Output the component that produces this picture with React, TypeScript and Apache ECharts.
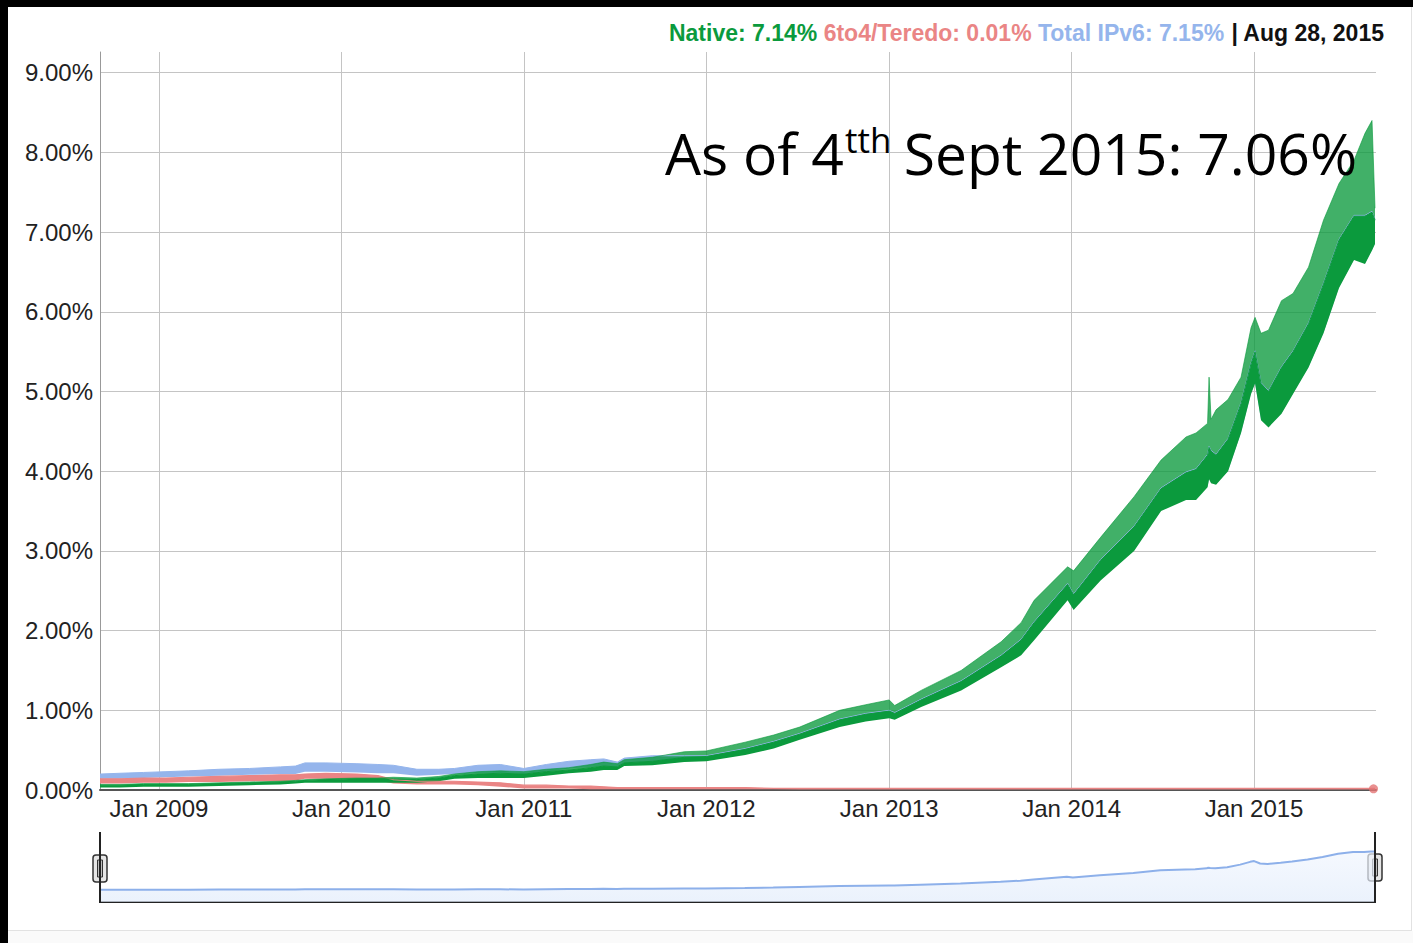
import React, { useEffect, useRef } from "react";
import * as echarts from "echarts";

// ---- data (percent of users) ----
const dates = [
  "2008-09-05","2008-10-15","2008-12-01",
  "2009-01-15","2009-03-01","2009-05-01","2009-07-01","2009-09-01","2009-10-01","2009-10-20","2009-12-01",
  "2010-02-01","2010-03-15","2010-04-15","2010-06-01","2010-07-15","2010-08-15","2010-10-01","2010-11-15",
  "2011-01-01","2011-02-15","2011-04-01","2011-05-15","2011-06-10","2011-07-07","2011-07-21","2011-09-15","2011-11-18",
  "2012-01-01","2012-03-19","2012-05-15","2012-07-06","2012-09-24","2012-11-15",
  "2013-01-01","2013-01-12","2013-03-06","2013-05-25","2013-08-13","2013-09-22","2013-10-18","2013-12-24",
  "2014-01-05","2014-02-28","2014-05-06","2014-06-29","2014-08-18","2014-09-07","2014-09-30","2014-10-03","2014-10-07","2014-10-17","2014-11-10","2014-12-06","2014-12-26",
  "2015-01-03","2015-01-15","2015-01-30","2015-02-25","2015-03-20","2015-04-20","2015-05-20","2015-06-20","2015-07-20","2015-08-11","2015-08-25","2015-08-31",
];

// Native: weekday floor, top of the dense band, and weekend spike tips
const nativeLow = [
  0.03,0.03,0.04,
  0.04,0.04,0.05,0.06,0.07,0.08,0.09,0.09,
  0.09,0.09,0.09,0.09,0.11,0.14,0.15,0.15,
  0.15,0.18,0.21,0.23,0.25,0.25,0.30,0.31,0.35,
  0.36,0.44,0.52,0.63,0.79,0.86,
  0.90,0.88,1.04,1.25,1.54,1.69,1.88,2.38,
  2.26,2.63,3.00,3.50,3.64,3.64,3.80,3.90,3.85,3.83,4.00,4.48,4.97,
  5.10,4.64,4.55,4.72,4.97,5.30,5.73,6.30,6.65,6.60,6.77,6.85,
];
const nativeBody = [
  0.06,0.06,0.07,
  0.07,0.07,0.08,0.09,0.10,0.11,0.12,0.13,
  0.14,0.14,0.14,0.13,0.15,0.18,0.20,0.21,
  0.20,0.23,0.25,0.28,0.30,0.29,0.34,0.36,0.41,
  0.42,0.51,0.60,0.70,0.88,0.95,
  0.99,0.96,1.13,1.36,1.68,1.88,2.10,2.58,
  2.45,2.88,3.30,3.78,3.98,4.02,4.20,4.30,4.25,4.20,4.40,4.85,5.35,
  5.50,5.10,5.00,5.30,5.50,5.85,6.35,6.90,7.20,7.20,7.25,7.15,
];
const nativePeak = [
  0.07,0.07,0.08,
  0.08,0.08,0.09,0.10,0.11,0.12,0.13,0.14,
  0.15,0.15,0.16,0.15,0.17,0.20,0.23,0.24,
  0.23,0.26,0.28,0.32,0.35,0.33,0.38,0.41,0.48,
  0.49,0.60,0.69,0.79,1.00,1.07,
  1.13,1.06,1.25,1.50,1.86,2.10,2.38,2.80,
  2.75,3.17,3.68,4.14,4.43,4.48,4.60,5.18,4.65,4.77,4.90,5.18,5.80,
  5.93,5.73,5.77,6.14,6.23,6.56,7.15,7.61,7.90,8.24,8.40,7.30,
];

// 6to4/Teredo
const teredoLow = [
  0.08,0.08,0.09,
  0.09,0.10,0.10,0.11,0.11,0.12,0.14,0.14,
  0.14,0.12,0.08,0.07,0.07,0.07,0.06,0.04,
  0.02,0.02,0.02,0.01,0.01,0.01,0.01,0.01,0.01,
  0.01,0.01,0.01,0.005,0.005,0.005,
  0.005,0.005,0.005,0.005,0.005,0.005,0.005,0.005,
  0.005,0.005,0.005,0.005,0.005,0.005,0.005,0.005,0.005,0.005,0.005,0.005,0.005,
  0.005,0.005,0.005,0.005,0.005,0.005,0.005,0.005,0.005,0.005,0.005,0.005,
];
const teredoHigh = [
  0.14,0.14,0.15,
  0.15,0.16,0.17,0.18,0.19,0.19,0.20,0.21,
  0.20,0.18,0.13,0.11,0.11,0.11,0.10,0.09,
  0.06,0.06,0.05,0.05,0.04,0.03,0.03,0.03,0.03,
  0.03,0.03,0.02,0.02,0.02,0.02,
  0.02,0.02,0.02,0.02,0.02,0.02,0.02,0.02,
  0.02,0.02,0.02,0.02,0.02,0.02,0.02,0.02,0.02,0.02,0.02,0.02,0.02,
  0.02,0.02,0.02,0.02,0.02,0.02,0.02,0.02,0.02,0.02,0.02,0.02,
];

// Total IPv6
const totalLow = [
  0.14,0.14,0.15,
  0.16,0.17,0.18,0.19,0.20,0.20,0.23,0.23,
  0.22,0.21,0.21,0.18,0.19,0.20,0.21,0.21,
  0.20,0.23,0.27,0.29,0.30,0.27,0.31,0.32,0.36,
  0.37,0.45,0.53,0.64,0.80,0.87,
  0.91,0.89,1.05,1.26,1.55,1.70,1.89,2.39,
  2.27,2.64,3.01,3.51,3.65,3.65,3.81,3.91,3.86,3.84,4.01,4.49,4.98,
  5.11,4.65,4.56,4.73,4.98,5.31,5.74,6.31,6.66,6.61,6.78,6.86,
];
const totalHigh = [
  0.20,0.21,0.22,
  0.23,0.24,0.26,0.27,0.29,0.30,0.34,0.34,
  0.33,0.32,0.31,0.26,0.26,0.27,0.31,0.32,
  0.27,0.32,0.36,0.38,0.39,0.35,0.40,0.43,0.43,
  0.43,0.52,0.61,0.71,0.89,0.96,
  1.00,0.97,1.14,1.37,1.69,1.89,2.11,2.59,
  2.46,2.89,3.31,3.79,3.99,4.03,4.21,4.31,4.26,4.21,4.41,4.86,5.36,
  5.51,5.11,5.01,5.31,5.51,5.86,6.36,6.91,7.21,7.21,7.26,7.16,
];

const xRange = ["2008-09-05", "2015-09-02"];
const yMin = 0;
const yMax = 9.26;
const yStep = 1;
const seriesNames = ["Native", "6to4/Teredo", "Total IPv6"];
const currentValues = ["7.14%", "0.01%", "7.15%"];
const currentDate = "Aug 28, 2015";
const hoverPoint: [string, number] = ["2015-08-28", 0.015];
const annotation = ["As of 4", "tth", " Sept 2015: 7.06%"];
const MONTHS = ["Jan","Feb","Mar","Apr","May","Jun","Jul","Aug","Sep","Oct","Nov","Dec"];

const GREEN = "#0b9a3d";
const RED = "#ea8585";
const BLUE = "#95b5ec";
const FONT = "'Liberation Sans', Arial, Helvetica, sans-serif";
const DAY = 24 * 3600 * 1000;

const pairs = (arr: number[]) => dates.map((d, i) => [d, arr[i]]);
const diffs = (hi: number[], lo: number[]) =>
  dates.map((d, i) => [d, Math.max(0, +(hi[i] - lo[i]).toFixed(4))]);

const stackBaseOf: Record<string, number[]> = {
  tot: totalLow, ter: teredoLow, nat: nativeLow,
};
function bandBase(stack: string) {
  return {
    type: "line", stack, data: pairs(stackBaseOf[stack]), symbol: "none",
    lineStyle: { opacity: 0, width: 0 }, silent: true, z: 2,
  };
}

export default function App() {
  const ref = useRef<HTMLDivElement>(null);
  useEffect(() => {
    if (!ref.current) return;
    const chart = echarts.init(ref.current, null, { renderer: "svg" });
    const option: any = {
      animation: false,
      backgroundColor: "transparent",
      grid: [
        { left: 100, top: 52, width: 1276, height: 738 },
        { left: 100, top: 832, width: 1275, height: 70 },
      ],
      xAxis: [
        {
          type: "time", gridIndex: 0, min: xRange[0], max: xRange[1],
          splitNumber: 7, minInterval: 364 * DAY, maxInterval: 367 * DAY,
          axisLine: { show: true, lineStyle: { color: "#555", width: 2 } },
          axisTick: { show: false },
          splitLine: { show: true, showMinLine: false, showMaxLine: false, lineStyle: { color: "#c4c4c4", width: 1 } },
          axisLabel: {
            fontSize: 24, color: "#222", fontFamily: FONT, margin: 6,
            showMinLabel: false, showMaxLabel: false,
            formatter: (v: number) => {
              const d = new Date(v);
              return MONTHS[d.getMonth()] + " " + d.getFullYear();
            },
          },
        },
        {
          type: "time", gridIndex: 1, min: xRange[0], max: xRange[1],
          axisLine: { show: true, onZero: false, lineStyle: { color: "#222", width: 2 } },
          axisTick: { show: false }, axisLabel: { show: false }, splitLine: { show: false },
        },
      ],
      yAxis: [
        {
          type: "value", gridIndex: 0, min: yMin, max: yMax, interval: yStep,
          axisLine: { show: true, lineStyle: { color: "#999", width: 1 } },
          axisTick: { show: false },
          splitLine: { show: true, showMinLine: false, showMaxLine: false, lineStyle: { color: "#c4c4c4", width: 1 } },
          axisLabel: {
            fontSize: 24, color: "#222", fontFamily: FONT, margin: 7, showMaxLabel: false,
            formatter: (v: number) => (Math.abs(v - Math.round(v)) < 1e-6 ? v.toFixed(2) + "%" : ""),
          },
        },
        {
          type: "value", gridIndex: 1, min: -2, max: 10.5, show: false,
          splitLine: { show: false },
        },
      ],
      series: [
        bandBase("tot"),
        {
          type: "line", stack: "tot", data: diffs(totalHigh, totalLow), symbol: "none",
          lineStyle: { color: BLUE, width: 1 }, areaStyle: { color: BLUE, opacity: 1 }, z: 2,
        },
        bandBase("ter"),
        {
          type: "line", stack: "ter", data: diffs(teredoHigh, teredoLow), symbol: "none",
          lineStyle: { color: RED, width: 1.2 }, areaStyle: { color: RED, opacity: 1 }, z: 2,
        },
        bandBase("nat"),
        {
          type: "line", stack: "nat", data: diffs(nativeBody, nativeLow), symbol: "none",
          lineStyle: { color: GREEN, width: 1 }, areaStyle: { color: GREEN, opacity: 1 }, z: 2,
        },
        {
          type: "line", stack: "nat", data: diffs(nativePeak, nativeBody), symbol: "none",
          lineStyle: { color: GREEN, width: 0.8, opacity: 0.8 },
          areaStyle: { color: GREEN, opacity: 0.78 }, z: 2,
        },
        {
          type: "scatter", data: [hoverPoint], symbolSize: 9,
          itemStyle: { color: "#e47474" }, z: 5,
        },
        {
          type: "line", xAxisIndex: 1, yAxisIndex: 1, symbol: "none",
          data: dates.map((d, i) => [d, (totalLow[i] + totalHigh[i]) / 2]),
          lineStyle: { color: "#8db0ea", width: 2 },
          areaStyle: {
            origin: "start",
            color: new echarts.graphic.LinearGradient(0, 0, 0, 1, [
              { offset: 0, color: "#f1f6fe" },
              { offset: 1, color: "#e2ecfb" },
            ]),
          },
        },
      ],
      graphic: [
        {
          type: "text", x: 1384, y: 33, z: 100,
          style: {
            text:
              `{g|${seriesNames[0]}: ${currentValues[0]} }` +
              `{r|${seriesNames[1]}: ${currentValues[1]} }` +
              `{b|${seriesNames[2]}: ${currentValues[2]} }` +
              `{k|| ${currentDate}}`,
            align: "right", verticalAlign: "middle",
            rich: {
              g: { fill: GREEN, fontSize: 23, fontWeight: "bold", fontFamily: FONT },
              r: { fill: RED, fontSize: 23, fontWeight: "bold", fontFamily: FONT },
              b: { fill: BLUE, fontSize: 23, fontWeight: "bold", fontFamily: FONT },
              k: { fill: "#111", fontSize: 23, fontWeight: "bold", fontFamily: FONT },
            },
          },
        },
        {
          type: "text", x: 665, y: 153, z: 100,
          style: { text: annotation[0], fill: "#000", fontSize: 57, fontFamily: "'Open Sans'", verticalAlign: "middle" },
        },
        {
          type: "text", x: 845, y: 139, z: 100,
          style: { text: annotation[1], fill: "#000", fontSize: 35, fontFamily: "'Open Sans'", verticalAlign: "middle" },
        },
        {
          type: "text", x: 889, y: 153, z: 100,
          style: { text: annotation[2], fill: "#000", fontSize: 57, fontFamily: "'Open Sans'", verticalAlign: "middle" },
        },
        { type: "line", z: 100, shape: { x1: 100, y1: 832, x2: 100, y2: 903 }, style: { stroke: "#222", lineWidth: 2 } },
        { type: "line", z: 100, shape: { x1: 1375, y1: 832, x2: 1375, y2: 903 }, style: { stroke: "#222", lineWidth: 2 } },
        {
          type: "group", z: 101,
          children: [
            { type: "rect", shape: { x: 93, y: 855, width: 14, height: 27, r: 3 }, style: { fill: "#e6e6e6", stroke: "#333", lineWidth: 1.5 } },
            { type: "rect", shape: { x: 97.5, y: 860, width: 5, height: 17 }, style: { fill: "#bdbdbd", stroke: "#333", lineWidth: 1 } },
          ],
        },
        {
          type: "group", z: 101,
          children: [
            { type: "rect", shape: { x: 1368, y: 854, width: 14, height: 27, r: 3 }, style: { fill: "#e6e6e6", stroke: "#333", lineWidth: 1.5 } },
            { type: "rect", shape: { x: 1372.5, y: 859, width: 5, height: 17 }, style: { fill: "#bdbdbd", stroke: "#333", lineWidth: 1 } },
          ],
        },
      ],
    };
    chart.setOption(option);
    return () => chart.dispose();
  }, []);

  return (
    <div style={{ position: "fixed", left: 0, top: 0, width: 1413, height: 943, background: "#fff", overflow: "hidden" }}>
      <div style={{ position: "absolute", left: 0, top: 931, width: 1413, height: 12, background: "#fafafa" }} />
      <div style={{ position: "absolute", left: 8, top: 7, width: 1404, height: 924, boxSizing: "border-box", borderRight: "1px solid #e2e2e2", borderBottom: "1px solid #e2e2e2", background: "#fff" }} />
      <div style={{ position: "absolute", left: 0, top: 0, width: 8, height: 943, background: "#000" }} />
      <div style={{ position: "absolute", left: 0, top: 0, width: 1413, height: 7, background: "#000" }} />
      <div ref={ref} style={{ position: "absolute", left: 0, top: 0, width: 1413, height: 943 }} />
    </div>
  );
}
